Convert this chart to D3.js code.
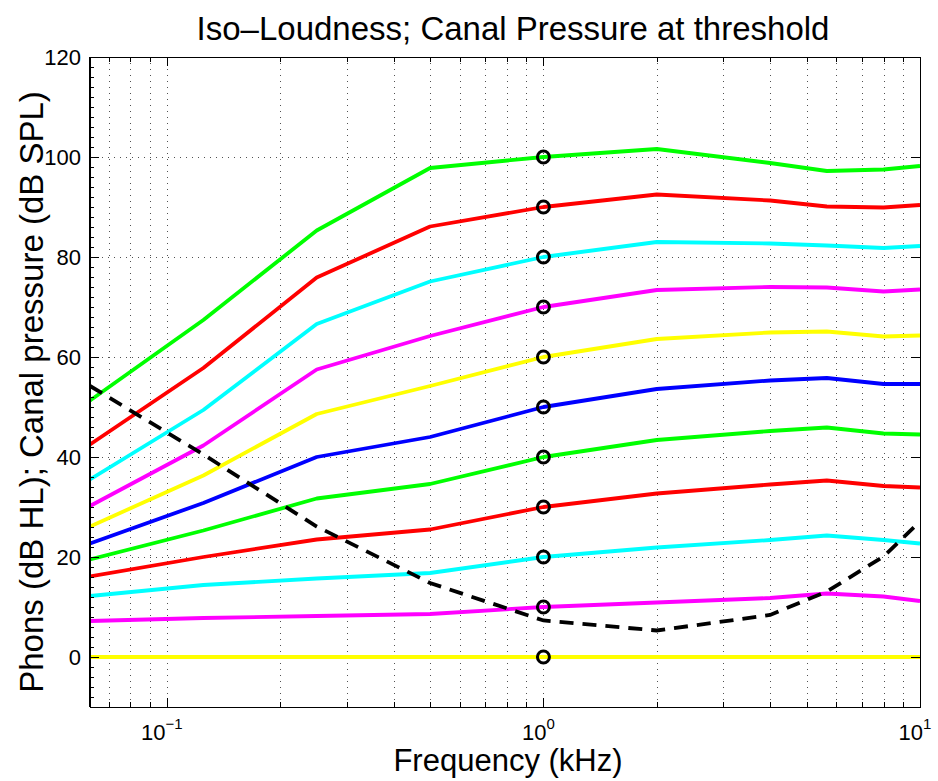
<!DOCTYPE html>
<html>
<head>
<meta charset="utf-8">
<script src="https://cdn.jsdelivr.net/npm/d3@7"></script>
<style>
  body { margin: 0; background: #fff; }
  text { font-family: "Liberation Sans", Arial, Helvetica, sans-serif; fill: #000; }
</style>
</head>
<body>
<div id="chart"></div>
<script>
// frequencies (kHz) of the iso-loudness points
const freqs = [0.0625, 0.125, 0.25, 0.5, 1, 2, 4, 5.657, 8, 10];

// phon levels, one curve each
const phons = [0, 10, 20, 30, 40, 50, 60, 70, 80, 90, 100];

const curve0   = [0, 0, 0, 0, 0, 0, 0, 0, 0, 0];
const curve10  = [7.2, 7.8, 8.2, 8.6, 10, 10.9, 11.8, 12.7, 12.1, 11.2];
const curve20  = [12.2, 14.4, 15.7, 16.8, 20, 21.9, 23.4, 24.3, 23.4, 22.7];
const curve30  = [16.1, 20.0, 23.5, 25.5, 30, 32.7, 34.5, 35.3, 34.2, 33.9];
const curve40  = [19.5, 25.3, 31.7, 34.6, 40, 43.4, 45.2, 45.9, 44.7, 44.5];
const curve50  = [22.7, 30.8, 40.0, 44.0, 50, 53.6, 55.3, 55.8, 54.6, 54.6];
const curve60  = [26.1, 36.3, 48.6, 54.2, 60, 63.6, 64.9, 65.1, 64.1, 64.3];
const curve70  = [30.2, 42.3, 57.5, 64.2, 70, 73.4, 74.0, 73.9, 73.1, 73.5];
const curve80  = [35.5, 49.4, 66.6, 75.1, 80, 83.0, 82.7, 82.3, 81.8, 82.2];
const curve90  = [42.5, 57.8, 75.9, 86.1, 90, 92.5, 91.3, 90.1, 89.9, 90.4];
const curve100 = [51.3, 67.4, 85.3, 97.8, 100, 101.6, 98.8, 97.2, 97.5, 98.2];

// canal pressure at threshold (dashed)
const threshold = [54.2, 40.5, 26.1, 14.8, 7.3, 5.3, 8.4, 13.1, 20.1, 27.1];

const curves = [curve0, curve10, curve20, curve30, curve40, curve50,
                curve60, curve70, curve80, curve90, curve100];
const colors = ["#ffff00", "#ff00ff", "#00ffff", "#ff0000", "#00ff00", "#0000ff"];

const yTicks = [0, 20, 40, 60, 80, 100, 120];
const xMajor = [0.1, 1, 10];
const xExp = ["\u22121", "0", "1"];

const W = 938, H = 781;
const m = { left: 90, right: 18, top: 57, bottom: 74 };
const iw = W - m.left - m.right;
const ih = H - m.top - m.bottom;

const x = d3.scaleLog().domain([0.0625, 10]).range([0, iw]);
const y = d3.scaleLinear().domain([-10, 120]).range([ih, 0]);

// minor log ticks 0.07..9
const xMinor = [];
[0.01, 0.1, 1].forEach(dec => {
    for (let k = 2; k <= 9; k++) {
        const v = dec * k;
        if (v >= 0.0625 && v <= 10 && !xMajor.includes(v)) xMinor.push(v);
    }
});
const yMinor = d3.range(-10, 121, 2).filter(v => !yTicks.includes(v));

const svg = d3.select("#chart").append("svg")
    .attr("width", W).attr("height", H);

const g = svg.append("g").attr("transform", `translate(${m.left},${m.top})`);

svg.append("defs").append("clipPath").attr("id", "clip")
    .append("rect").attr("width", iw).attr("height", ih);

/* ---------- grid ---------- */
const grid = g.append("g")
    .attr("stroke", "#333")
    .attr("stroke-width", 1)
    .attr("stroke-dasharray", "1,5")
    .attr("opacity", 0.85);

grid.selectAll(".gx").data(xMinor.concat(xMajor.slice(0, 2))).join("line")
    .attr("x1", d => Math.round(x(d)) + 0.5).attr("x2", d => Math.round(x(d)) + 0.5)
    .attr("y1", 0).attr("y2", ih);

grid.selectAll(".gy").data(yTicks.slice(1, -1)).join("line")
    .attr("y1", d => Math.round(y(d)) + 0.5).attr("y2", d => Math.round(y(d)) + 0.5)
    .attr("x1", 0).attr("x2", iw);

/* ---------- curves ---------- */
const line = d3.line()
    .x((d, i) => x(freqs[i]))
    .y(d => y(d));

const plot = g.append("g").attr("clip-path", "url(#clip)");

plot.selectAll(".curve").data(curves).join("path")
    .attr("class", "curve")
    .attr("d", line)
    .attr("fill", "none")
    .attr("stroke", (d, i) => colors[i % colors.length])
    .attr("stroke-width", 3.8)
    .attr("stroke-linejoin", "round");

plot.append("path")
    .attr("d", line(threshold))
    .attr("fill", "none")
    .attr("stroke", "#000")
    .attr("stroke-width", 3.8)
    .attr("stroke-dasharray", "14,9");

// markers at 1 kHz
g.selectAll(".mk").data(phons).join("circle")
    .attr("cx", x(1))
    .attr("cy", d => y(d))
    .attr("r", 6)
    .attr("fill", "none")
    .attr("stroke", "#000")
    .attr("stroke-width", 3);

/* ---------- frame and ticks ---------- */
const ax = g.append("g").attr("stroke", "#000").attr("stroke-width", 1);

ax.append("rect")
    .attr("x", 0.5).attr("y", 0.5)
    .attr("width", iw).attr("height", ih)
    .attr("fill", "none");
ax.append("line").attr("x1", 0).attr("x2", 0).attr("y1", 0).attr("y2", ih)
    .attr("stroke-width", 2);

// x ticks, bottom and top
xMajor.forEach(v => {
    const px = Math.round(x(v)) + 0.5;
    ax.append("line").attr("x1", px).attr("x2", px).attr("y1", ih).attr("y2", ih - 9);
    ax.append("line").attr("x1", px).attr("x2", px).attr("y1", 0).attr("y2", 9);
});
xMinor.forEach(v => {
    const px = Math.round(x(v)) + 0.5;
    ax.append("line").attr("x1", px).attr("x2", px).attr("y1", ih).attr("y2", ih - 5);
    ax.append("line").attr("x1", px).attr("x2", px).attr("y1", 0).attr("y2", 5);
});

// y ticks, left and right
yTicks.forEach(v => {
    const py = Math.round(y(v)) + 0.5;
    ax.append("line").attr("y1", py).attr("y2", py).attr("x1", 0).attr("x2", 9);
    ax.append("line").attr("y1", py).attr("y2", py).attr("x1", iw).attr("x2", iw - 9);
});
yMinor.forEach(v => {
    const py = Math.round(y(v)) + 0.5;
    ax.append("line").attr("y1", py).attr("y2", py).attr("x1", 0).attr("x2", 4);
});

/* ---------- labels ---------- */
g.selectAll(".yl").data(yTicks).join("text")
    .attr("x", -9)
    .attr("y", d => y(d))
    .attr("dy", "0.36em")
    .attr("text-anchor", "end")
    .style("font-size", "22px")
    .text(d => d);

xMajor.forEach((v, i) => {
    const t = g.append("text")
        .attr("x", x(v) - 5)
        .attr("y", ih + 33)
        .attr("text-anchor", "middle")
        .style("font-size", "22px");
    t.append("tspan").text("10");
    t.append("tspan")
        .attr("dy", -11)
        .style("font-size", "15px")
        .text(xExp[i]);
});

svg.append("text")
    .attr("x", m.left + iw / 2 + 8)
    .attr("y", 40)
    .attr("text-anchor", "middle")
    .style("font-size", "33px")
    .text("Iso\u2013Loudness; Canal Pressure at threshold");

svg.append("text")
    .attr("x", m.left + iw / 2 + 3)
    .attr("y", 771)
    .attr("text-anchor", "middle")
    .style("font-size", "31px")
    .text("Frequency (kHz)");

svg.append("text")
    .attr("transform", `translate(43,${m.top + y(53)}) rotate(-90)`)
    .attr("text-anchor", "middle")
    .style("font-size", "33px")
    .text("Phons (dB HL); Canal pressure (dB SPL)");
</script>
</body>
</html>
